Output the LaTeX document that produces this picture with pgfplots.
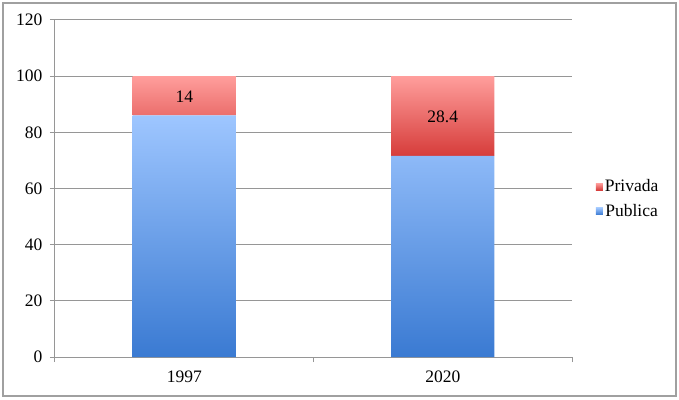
\documentclass[border=0pt]{standalone}
\usepackage{pgfplots}
\pgfplotsset{compat=1.18}
\usepackage{fontspec}
\setmainfont{Liberation Serif}
\definecolor{gridgray}{RGB}{150,150,150}
\definecolor{framegray}{RGB}{160,160,160}
\definecolor{pubtop}{RGB}{158,198,255}
\definecolor{pubbot}{RGB}{58,122,210}
\definecolor{privtop}{RGB}{255,158,156}
\definecolor{privbot}{RGB}{214,60,58}
\begin{document}
\begin{tikzpicture}[x=1pt,y=1pt]
\useasboundingbox (-55,-42) rectangle (624,357);
\draw[framegray, line width=1.2pt] (-52,-39) rectangle (621,354);
\begin{axis}[
  at={(0,0)}, anchor=south west,
  scale only axis, width=517pt, height=337pt,
  xmin=-0.5, xmax=1.5, ymin=0, ymax=120,
  ybar stacked, bar width=0.4,
  ytick={0,20,...,120},
  xtick={0,1}, xticklabels={1997,2020},
  minor xtick={-0.5,0.5,1.5},
  axis lines*=left,
  axis line style={gridgray, line width=1pt},
  ymajorgrids, major grid style={gridgray, line width=1pt},
  tick align=outside,
  major tick length=5pt, minor tick length=5pt,
  tick style={gridgray, line width=1pt},
  major x tick style={draw=none},
  /pgf/number format/assume math mode=true,
  tick label style={font=\fontsize{17.5}{20}\selectfont, black},
  yticklabel style={xshift=-4pt},
  xticklabel style={yshift=-5pt},
  legend style={at={(1.04,0.469)}, anchor=west, draw=none, fill=none,
    font=\fontsize{17.5}{20}\selectfont, row sep=7pt},
  legend image code/.code={\path[#1, draw=none] (0pt,-3.5pt) rectangle (7pt,3.5pt);},
  reverse legend,
]
\addplot[draw=none, top color=pubtop, bottom color=pubbot] coordinates {(0,86) (1,71.6)};
\addlegendentry{Publica}
\addplot[draw=none, top color=privtop, bottom color=privbot] coordinates {(0,14) (1,28.4)};
\addlegendentry{Privada}
\end{axis}
\begin{axis}[
  at={(0,0)}, anchor=south west,
  scale only axis, width=517pt, height=337pt,
  xmin=-0.5, xmax=1.5, ymin=0, ymax=120, hide axis,
]
\addplot[draw=none, mark=none, nodes near coords, point meta=explicit symbolic,
  nodes near coords style={anchor=center, font=\fontsize{17.5}{20}\selectfont, black}]
  coordinates {(0,92.8)[14] (1,85.6)[28.4]};
\end{axis}
\end{tikzpicture}
\end{document}
